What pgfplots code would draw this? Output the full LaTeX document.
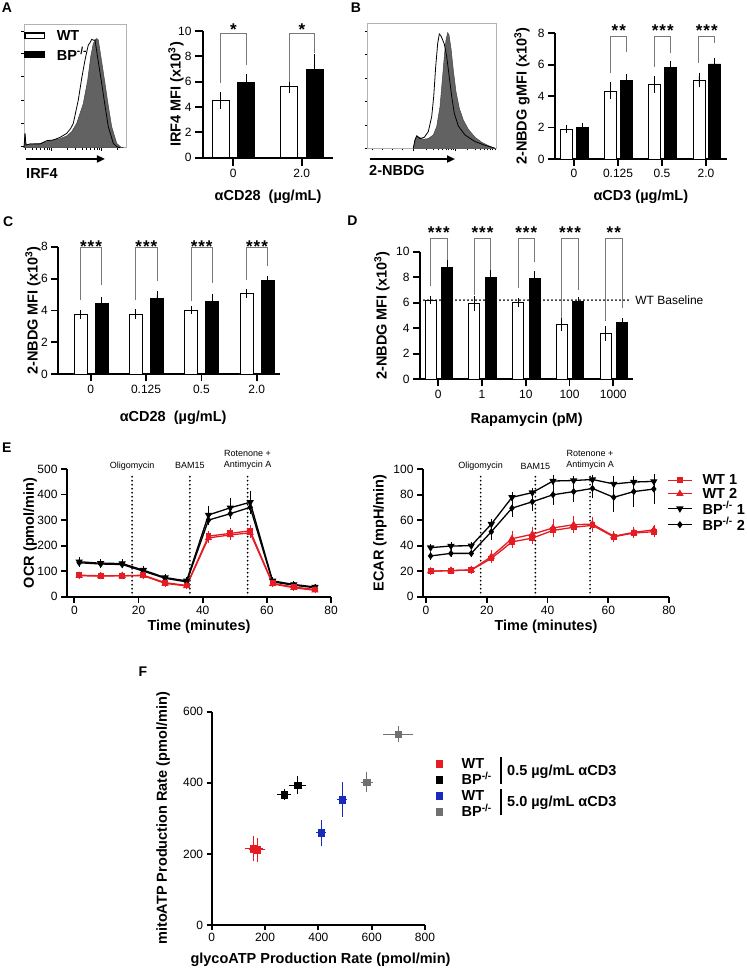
\documentclass[border=0pt]{standalone}
\usepackage{pgfplots}
\pgfplotsset{compat=1.18}
\usepackage{pgfplotstable}
\usepackage{fontspec}
\setmainfont{Liberation Sans}
\usetikzlibrary{arrows.meta}

\definecolor{wtred}{RGB}{230,28,36}
\definecolor{fblue}{RGB}{24,42,188}
\definecolor{fgray}{RGB}{112,112,112}
\definecolor{histgray}{RGB}{98,98,98}
\definecolor{brkgray}{RGB}{120,120,120}

\newcommand{\lab}{\bfseries\fontsize{14.5}{17}\selectfont}
\newcommand{\tck}{\fontsize{12}{14}\selectfont}
\newcommand{\sml}{\fontsize{9}{11.5}\selectfont}
\newcommand{\str}{\bfseries\fontsize{17}{17}\selectfont}
\newcommand{\two}{*\kern1pt*}
\newcommand{\three}{*\kern1pt*\kern1pt*}
\newcommand{\brk}[5]{\addplot[brk] coordinates {(#1,#3) (#1,#5) (#2,#5) (#2,#4)};}

\pgfplotsset{
  gp/.style={scale only axis, clip=false, enlargelimits=false, anchor=south west,
    axis x line=bottom, axis y line=left,
    axis line style={-, line width=1.8pt, black},
    tick align=outside, major tick length=7pt,
    tick style={line width=1.8pt, black},
    tick label style={font=\tck},
    /pgf/number format/assume math mode=true,
    label style={font=\lab}},
  hist/.style={scale only axis, clip=false, anchor=south west,
    axis line style={draw=gray!60, line width=0.6pt},
    tick align=outside, xtick pos=bottom, ytick pos=left,
    xticklabels={}, yticklabels={},
    major tick length=3pt, minor tick length=2pt,
    tick style={black, line width=0.5pt}},
  wt/.style={ybar, bar shift=0pt, bar width=#1, fill=white, draw=black, line width=0.7pt,
    error bars/y dir=both, error bars/y explicit,
    error bars/error bar style={line width=0.7pt, black},
    error bars/error mark options={mark size=3.5pt, line width=0.7pt, black}},
  bp/.style={ybar, bar shift=0pt, bar width=#1, fill=black, draw=black, line width=0.7pt,
    error bars/y dir=both, error bars/y explicit,
    error bars/error bar style={line width=0.7pt, black},
    error bars/error mark options={mark size=3.5pt, line width=0.7pt, black}},
  brk/.style={brkgray, line width=0.9pt, mark=none},
  vline/.style={black, line width=1.9pt, line cap=round, dash pattern=on 0pt off 4pt, forget plot},
  eb/.style={error bars/y dir=both, error bars/y explicit,
    error bars/error bar style={line width=0.6pt},
    error bars/error mark options={mark size=2.4pt, line width=0.6pt}},
  s1/.style={mark=square*, mark size=2.3pt},
  s2/.style={mark=triangle*, mark size=3pt},
  s3/.style={mark=triangle*, mark size=3pt, mark options={rotate=180}},
  s4/.style={mark=diamond*, mark size=2.6pt},
}

% flow histograms (x, y in px of the plot box)
\pgfplotstableread{
x y
0 0
1 14.3
2 2.7
6 3.7
16 4.3
22.7 6
29.3 7.7
36 9
42.7 11.7
47.7 16
52.7 24.3
59.3 44.3
63.7 67.7
66.7 91
69.3 104.3
70.5 106
71.3 108.3
72 106.8
72.7 109.3
74.3 107.7
77.7 86
81 64.3
84.3 42
87.7 21
92.7 4.3
97 0.5
100 0
}\hAbp
\pgfplotstableread{
x y
0 0
1 14.3
2 2.7
6 3.7
16 3.7
22.7 7
29.3 7.7
36 10.3
42.7 14.3
46.7 19.3
49.3 24.3
54.3 47.7
57.7 69.3
61 87.7
64.3 102.7
66 105
67.7 108.3
69.3 107.5
71 107.7
74.3 86
77.7 64.3
81 42
84.3 21
89.3 4.3
93 1
96 0
}\hAwt
\pgfplotstableread{
x y
45.6 0
47.3 8.3
49 12.7
51.3 11
55.6 9
60.6 9.7
65.6 13.3
69 21.7
72.3 41.7
74.6 68.3
76.6 91.7
78.3 108.3
80 115.7
81.3 113.3
83.3 100
85.6 78.3
88.3 56.7
91.6 40
95.6 28.3
100.6 19
107.3 11
114 6
120.6 2.7
127.3 0
}\hBbp
\pgfplotstableread{
x y
45.6 0
47.3 8.3
49 12.3
52.3 9.7
56.6 11
60.6 16.7
64 31.7
66 51.7
68 81.7
70 105
71.6 114.3
73.3 112.3
75 108.3
76.6 104.3
79 91.7
81.3 73.3
84 51.7
86.6 35
90.6 22.3
97.3 13.3
107.3 6.7
117.3 3
127.3 0
}\hBwt

% Seahorse traces: time, WT 1, WT 2, BP 1, BP 2 (mean, sem)
\pgfplotstableread{
t     w1   w1e  w2   w2e  b1   b1e  b2   b2e
1.5   84   5    82   4    137  8    133  6
8.2   82   4    81   4    131  6    128  5
14.9  82   4    82   4    130  8    126  6
21.5  84   5    82   4    104  5    100  4
28.3  55   5    52   4    75   4    72   4
35    44   4    42   4    62   4    58   4
41.8  237  12   230  10   320  25   300  10
48.6  248  12   242  10   348  30   325  10
54.8  258  12   250  10   370  35   350  12
61.8  52   4    50   4    62   4    58   3
68.4  38   4    35   3    48   3    45   3
75    28   3    25   3    38   3    35   3
}\ocr
\pgfplotstableread{
t     w1   w1e  w2   w2e  b1   b1e  b2   b2e
1.5   20   1    20   1    38.5 1    32   1
8.2   20.5 1    20.5 1    39.8 1    34   1
14.9  21   1    21   1    40   1    34   1
21.5  30   2    31.5 3    57   2    51   5
28.3  43   3    45.5 4    78   2    69.5 5
35    46   3    49   4    81.7 2    74.5 5
41.8  52   3    54   5    90.8 2.5  80   6
48.6  54.5 3    56.5 5    91.2 2    82.5 6
54.8  56   3    57   4    92   2    85   6
61.8  47   2    47.5 2    88.5 4    78   10
68.4  50   2    50.5 2    90   3    82.5 10
75    51   2    52.5 2    90.5 3    84.5 10
}\ecar

\begin{document}
\begin{tikzpicture}
\useasboundingbox (0pt,0pt) rectangle (747pt,975pt);

% ================= A
\begin{axis}[hist, at={(24pt,827.3pt)}, width=102pt, height=123.7pt,
  xmin=0, xmax=102, ymin=0, ymax=123.7,
  ytick={1,24.3,47.7,71,94.3,116},
  xtick={27.7,77.7},
  minor xtick={1.6,7.8,12.7,16.6,20,22.9,25.4,42.8,51.6,57.8,62.7,66.6,70,72.9,75.4,92.8},
  legend image code/.code={\draw[#1] (0pt,-2.6pt) rectangle (19.5pt,2.6pt); \path (30pt,0pt);},
  legend cell align=left,
  legend style={at={(axis description cs:0,0.96)}, anchor=north west,
    draw=none, fill=none, inner sep=0pt, row sep=4pt, font=\lab, nodes={inner sep=1pt}}]
\addplot[fill=histgray, draw=histgray!70!black, line width=0.5pt, forget plot] table {\hAbp} \closedcycle;
\addplot[black, line width=0.8pt, forget plot] table {\hAwt};
\addlegendimage{draw=black, line width=1.6pt, fill=white}
\addlegendentry{WT}
\addlegendimage{draw=black, line width=1.6pt, fill=black}
\addlegendentry{BP\textsuperscript{-/-}}
\draw[black, line width=1.8pt, -{Triangle[length=8pt,width=7pt]}] (axis description cs:0.02,-0.091) -- (axis description cs:0.794,-0.091);
\node[font=\lab, anchor=west, inner sep=0pt] at (axis description cs:0.02,-0.205) {IRF4};
\end{axis}

\begin{axis}[gp, at={(203pt,817.3pt)}, width=130pt, height=126.7pt,
  xmin=-0.443, xmax=1.458, ymin=0, ymax=10,
  xtick={0,1}, xticklabels={0,2.0}, ytick={0,2,4,6,8,10}, major tick length=8pt,
  ylabel={IRF4 MFI (x10\textsuperscript{3})}, xlabel={αCD28\ \ (µg/mL)},
  ylabel style={at={(axis description cs:-0.208,0.5)}, anchor=center},
  xlabel style={at={(axis description cs:0.5,-0.31)}, anchor=center}]
\addplot[wt=17pt, error bars/error mark options={mark size=4pt}] coordinates {(-0.185,4.5) +- (0,0.35) (0.815,5.66) +- (0,0.26)};
\addplot[bp=17pt, error bars/error mark options={mark size=4pt}] coordinates {(0.19,5.92) +- (0,0.35) (1.19,6.98) +- (0,0.92)};
\brk{-0.185}{0.19}{5.87}{7.3}{9.8}
\brk{0.815}{1.19}{6.0}{8.24}{9.8}
\node[anchor=base, font=\str] at (axis cs:0.0025,9.64) {*};
\node[anchor=base, font=\str] at (axis cs:1.0025,9.64) {*};
\end{axis}

% ================= B
\begin{axis}[hist, at={(367.7pt,826.7pt)}, width=129pt, height=125pt,
  xmin=0, xmax=129, ymin=0, ymax=125,
  ytick={0,23.5,47,70.5,94,117.5},
  xtick={45.6,87.3},
  minor xtick={5,15,25,35,58.2,65.5,70.7,74.8,78.1,80.8,83.2,85.4,99.9,107.2,112.4,116.5,119.8,122.5,124.9,127.1}]
\addplot[fill=histgray, draw=histgray!70!black, line width=0.5pt] table {\hBbp} \closedcycle;
\addplot[black, line width=0.8pt] table {\hBwt};
\draw[black, line width=1.8pt, -{Triangle[length=8pt,width=7pt]}] (axis description cs:0.018,-0.086) -- (axis description cs:0.677,-0.086);
\node[font=\lab, anchor=west, inner sep=0pt] at (axis description cs:0.01,-0.174) {2-NBDG};
\end{axis}

\begin{axis}[gp, at={(555pt,816pt)}, width=171.7pt, height=125.7pt,
  xmin=-0.432, xmax=3.47, ymin=0, ymax=8,
  xtick={0,1,2,3}, xticklabels={0,0.125,0.5,2.0}, ytick={0,2,4,6,8},
  ylabel={2-NBDG gMFI (x10\textsuperscript{3})}, xlabel={αCD3 (µg/mL)},
  ylabel style={at={(axis description cs:-0.192,0.5)}, anchor=center},
  xlabel style={at={(axis description cs:0.5,-0.302)}, anchor=center}]
\addplot[wt=12pt] coordinates {(-0.163,1.89) +- (0,0.03) (0.837,4.33) +- (0,0.32) (1.837,4.75) +- (0,0.3) (2.837,5.03) +- (0,0.25)};
\addplot[bp=12pt] coordinates {(0.198,2.02) +- (0,0.02) (1.198,4.99) +- (0,0.2) (2.198,5.84) +- (0,0.18) (3.198,6.05) +- (0,0.18)};
\brk{0.837}{1.198}{5.46}{6.83}{7.83}
\brk{1.837}{2.198}{5.88}{6.73}{7.83}
\brk{2.837}{3.198}{6.13}{7.36}{7.83}
\node[anchor=base, font=\str] at (axis cs:1.0175,7.82) {\two};
\node[anchor=base, font=\str] at (axis cs:2.0175,7.82) {\three};
\node[anchor=base, font=\str] at (axis cs:3.0175,7.82) {\three};
\end{axis}

% ================= C
\begin{axis}[gp, at={(58.3pt,600.7pt)}, width=221.7pt, height=127.6pt,
  xmin=-0.586, xmax=3.42, ymin=0, ymax=8,
  xtick={0,1,2,3}, xticklabels={0,0.125,0.5,2.0}, ytick={0,2,4,6,8},
  ylabel={2-NBDG MFI (x10\textsuperscript{3})}, xlabel={αCD28\ \ (µg/mL)},
  ylabel style={at={(axis description cs:-0.114,0.5)}, anchor=center},
  xlabel style={at={(axis description cs:0.518,-0.342)}, anchor=center}]
\addplot[wt=13pt] coordinates {(-0.187,3.76) +- (0,0.06) (0.813,3.78) +- (0,0.07) (1.813,4.03) +- (0,0.04) (2.813,5.05) +- (0,0.05)};
\addplot[bp=13pt] coordinates {(0.197,4.43) +- (0,0.22) (1.197,4.78) +- (0,0.2) (2.197,4.57) +- (0,0.25) (3.197,5.9) +- (0,0.06)};
\brk{-0.187}{0.197}{4.66}{5.6}{7.94}
\brk{0.813}{1.197}{4.66}{5.85}{7.94}
\brk{1.813}{2.197}{4.6}{5.7}{7.94}
\brk{2.813}{3.197}{5.9}{6.79}{7.94}
\node[anchor=base, font=\str] at (axis cs:0.005,7.62) {\three};
\node[anchor=base, font=\str] at (axis cs:1.005,7.62) {\three};
\node[anchor=base, font=\str] at (axis cs:2.005,7.62) {\three};
\node[anchor=base, font=\str] at (axis cs:3.005,7.62) {\three};
\end{axis}

% ================= D
\begin{axis}[gp, at={(420pt,595.7pt)}, width=213.3pt, height=127.6pt,
  xmin=-0.418, xmax=4.457, ymin=0, ymax=10,
  xtick={0,1,2,3,4}, xticklabels={0,1,10,100,1000}, ytick={0,2,4,6,8,10},
  ylabel={2-NBDG MFI (x10\textsuperscript{3})}, xlabel={Rapamycin (pM)},
  ylabel style={at={(axis description cs:-0.178,0.5)}, anchor=center},
  xlabel style={at={(axis description cs:0.5,-0.319)}, anchor=center}]
\addplot[wt=11pt] coordinates {(-0.178,6.2) +- (0,0.05) (0.822,5.95) +- (0,0.3) (1.822,6.03) +- (0,0.08) (2.822,4.31) +- (0,0.25) (3.822,3.6) +- (0,0.3)};
\addplot[bp=11pt] coordinates {(0.199,8.75) +- (0,0.33) (1.199,7.96) +- (0,0.33) (2.199,7.88) +- (0,0.35) (3.199,6.13) +- (0,0.05) (4.199,4.44) +- (0,0.07)};
\addplot[vline] coordinates {(-0.418,6.2) (4.38,6.2)};
\node[anchor=west, font=\tck, inner sep=0pt] at (axis cs:4.5,6.2) {WT Baseline};
\brk{-0.178}{0.199}{7.31}{9.35}{11.05}
\brk{0.822}{1.199}{6.6}{8.56}{11.05}
\brk{1.822}{2.199}{7.13}{9.22}{11.05}
\brk{2.822}{3.199}{4.78}{7.0}{11.05}
\brk{3.822}{4.199}{4.6}{5.56}{11.05}
\node[anchor=base, font=\str] at (axis cs:0.0105,11.01) {\three};
\node[anchor=base, font=\str] at (axis cs:1.0105,11.01) {\three};
\node[anchor=base, font=\str] at (axis cs:2.0105,11.01) {\three};
\node[anchor=base, font=\str] at (axis cs:3.0105,11.01) {\three};
\node[anchor=base, font=\str] at (axis cs:4.0105,11.01) {\two};
\end{axis}

% ================= E: OCR
\begin{axis}[gp, at={(67pt,378.3pt)}, width=264pt, height=127.7pt,
  xmin=-2.3, xmax=80, ymin=0, ymax=500,
  xtick={0,20,40,60,80}, ytick={0,100,200,300,400,500}, major tick length=6pt,
  ylabel={OCR (pmol/min)}, xlabel={Time (minutes)},
  ylabel style={at={(axis description cs:-0.14,0.5)}, anchor=center},
  xlabel style={at={(axis description cs:0.5,-0.237)}, anchor=center}]
\addplot[vline] coordinates {(18,0) (18,483)};
\addplot[vline] coordinates {(36,0) (36,483)};
\addplot[vline] coordinates {(54,0) (54,483)};
\node[font=\sml] at (axis cs:18,512) {Oligomycin};
\node[font=\sml] at (axis cs:36,512) {BAM15};
\node[font=\sml, align=center] at (axis cs:54,535) {Rotenone +\\Antimycin A};
\addplot[black, line width=1.3pt, s3, eb] table[x=t, y=b1, y error=b1e] {\ocr};
\addplot[black, line width=1.3pt, s4, eb] table[x=t, y=b2, y error=b2e] {\ocr};
\addplot[wtred, line width=1.3pt, s1, eb] table[x=t, y=w1, y error=w1e] {\ocr};
\addplot[wtred, line width=1.3pt, s2, eb] table[x=t, y=w2, y error=w2e] {\ocr};
\end{axis}

% ================= E: ECAR
\begin{axis}[gp, at={(423pt,378.3pt)}, width=246pt, height=127.4pt,
  xmin=-1, xmax=80, ymin=0, ymax=100,
  xtick={0,20,40,60,80}, ytick={0,20,40,60,80,100}, major tick length=6pt,
  ylabel={ECAR (mpH/min)}, xlabel={Time (minutes)},
  ylabel style={at={(axis description cs:-0.175,0.5)}, anchor=center},
  xlabel style={at={(axis description cs:0.5,-0.238)}, anchor=center},
  legend image code/.code={\draw[mark repeat=2, mark phase=2, #1] plot coordinates {(0pt,0pt) (12pt,0pt) (24pt,0pt)}; \path (33pt,0pt);},
  legend cell align=left,
  legend style={at={(axis description cs:0.992,0.969)}, anchor=north west,
    draw=none, fill=none, inner sep=0pt, row sep=0pt, font=\lab, nodes={inner sep=1pt}}]
\addplot[vline] coordinates {(18,0) (18,95.5)};
\addplot[vline] coordinates {(36,0) (36,95.5)};
\addplot[vline] coordinates {(54,0) (54,95.5)};
\node[font=\sml] at (axis cs:18,102.6) {Oligomycin};
\node[font=\sml] at (axis cs:36,102.6) {BAM15};
\node[font=\sml, align=center] at (axis cs:54,107.3) {Rotenone +\\Antimycin A};
\addplot[black, line width=1.3pt, s3, eb, forget plot] table[x=t, y=b1, y error=b1e] {\ecar};
\addplot[black, line width=1.3pt, s4, eb, forget plot] table[x=t, y=b2, y error=b2e] {\ecar};
\addplot[wtred, line width=1.3pt, s1, eb, forget plot] table[x=t, y=w1, y error=w1e] {\ecar};
\addplot[wtred, line width=1.3pt, s2, eb, forget plot] table[x=t, y=w2, y error=w2e] {\ecar};
\addlegendimage{wtred, line width=1.3pt, s1}
\addlegendentry{WT 1}
\addlegendimage{wtred, line width=1.3pt, s2}
\addlegendentry{WT 2}
\addlegendimage{black, line width=1.3pt, s3}
\addlegendentry{BP\textsuperscript{-/-} 1}
\addlegendimage{black, line width=1.3pt, s4}
\addlegendentry{BP\textsuperscript{-/-} 2}
\end{axis}

% ================= F
\begin{axis}[gp, at={(211.7pt,50pt)}, width=213.3pt, height=213.3pt,
  xmin=0, xmax=800, ymin=0, ymax=600,
  xtick={0,200,400,600,800}, ytick={0,200,400,600}, major tick length=5pt,
  ylabel={mitoATP Production Rate (pmol/min)}, xlabel={glycoATP Production Rate (pmol/min)},
  ylabel style={at={(axis description cs:-0.228,0.5)}, anchor=center},
  xlabel style={at={(axis description cs:0.51,-0.164)}, anchor=center},
  legend image code/.code={\draw[#1] plot coordinates {(0pt,0pt)}; \path (-3.5pt,0pt) (22pt,0pt);},
  legend cell align=left,
  legend style={at={(axis description cs:1.047,0.782)}, anchor=north west,
    draw=none, fill=none, inner sep=0pt, row sep=5.5pt, font=\lab,
    nodes={inner sep=0.5pt, text height=9.5pt, text depth=0pt}}]
\addplot[only marks, mark=square*, mark size=3.2pt, color=wtred, forget plot,
  error bars/x dir=both, error bars/y dir=both, error bars/x explicit, error bars/y explicit,
  error bars/error bar style={line width=0.8pt}, error bars/error mark options={mark size=3pt, line width=0.8pt}]
  coordinates {(158,215) +- (22,27) (170,212) +- (20,25)};
\addplot[only marks, mark=square*, mark size=3.2pt, color=black, forget plot,
  error bars/x dir=both, error bars/y dir=both, error bars/x explicit, error bars/y explicit,
  error bars/error bar style={line width=0.8pt}, error bars/error mark options={mark size=3pt, line width=0.8pt}]
  coordinates {(272,367) +- (16,6) (322,393) +- (22,17)};
\addplot[only marks, mark=square*, mark size=3.2pt, color=fblue, forget plot,
  error bars/x dir=both, error bars/y dir=both, error bars/x explicit, error bars/y explicit,
  error bars/error bar style={line width=0.8pt}, error bars/error mark options={mark size=3pt, line width=0.8pt}]
  coordinates {(411,260) +- (8,28) (490,353) +- (8,40)};
\addplot[only marks, mark=square*, mark size=3.2pt, color=fgray, forget plot,
  error bars/x dir=both, error bars/y dir=both, error bars/x explicit, error bars/y explicit,
  error bars/error bar style={line width=0.8pt}, error bars/error mark options={mark size=3pt, line width=0.8pt}]
  coordinates {(582,402) +- (12,19) (700,537) +- (45,15)};
\addlegendimage{only marks, mark=square*, mark size=3.2pt, color=wtred}
\addlegendentry{WT}
\addlegendimage{only marks, mark=square*, mark size=3.2pt, color=black}
\addlegendentry{BP\textsuperscript{-/-}}
\addlegendimage{only marks, mark=square*, mark size=3.2pt, color=fblue}
\addlegendentry{WT}
\addlegendimage{only marks, mark=square*, mark size=3.2pt, color=fgray}
\addlegendentry{BP\textsuperscript{-/-}}
\end{axis}

\draw[line width=2pt] (501pt,218pt) -- (501pt,191pt);
\draw[line width=2pt] (501pt,186pt) -- (501pt,160pt);
\node[font=\lab, anchor=west, inner sep=0pt] at (507pt,203pt) {0.5 µg/mL αCD3};
\node[font=\lab, anchor=west, inner sep=0pt] at (507pt,172pt) {5.0 µg/mL αCD3};

% panel letters
\node[font=\bfseries\fontsize{14}{14}\selectfont] at (7pt,967pt) {A};
\node[font=\bfseries\fontsize{14}{14}\selectfont] at (356pt,967pt) {B};
\node[font=\bfseries\fontsize{14}{14}\selectfont] at (8.3pt,753.3pt) {C};
\node[font=\bfseries\fontsize{14}{14}\selectfont] at (352.5pt,754pt) {D};
\node[font=\bfseries\fontsize{14}{14}\selectfont] at (6.7pt,527pt) {E};
\node[font=\bfseries\fontsize{14}{14}\selectfont] at (143pt,303pt) {F};
\end{tikzpicture}
\end{document}
